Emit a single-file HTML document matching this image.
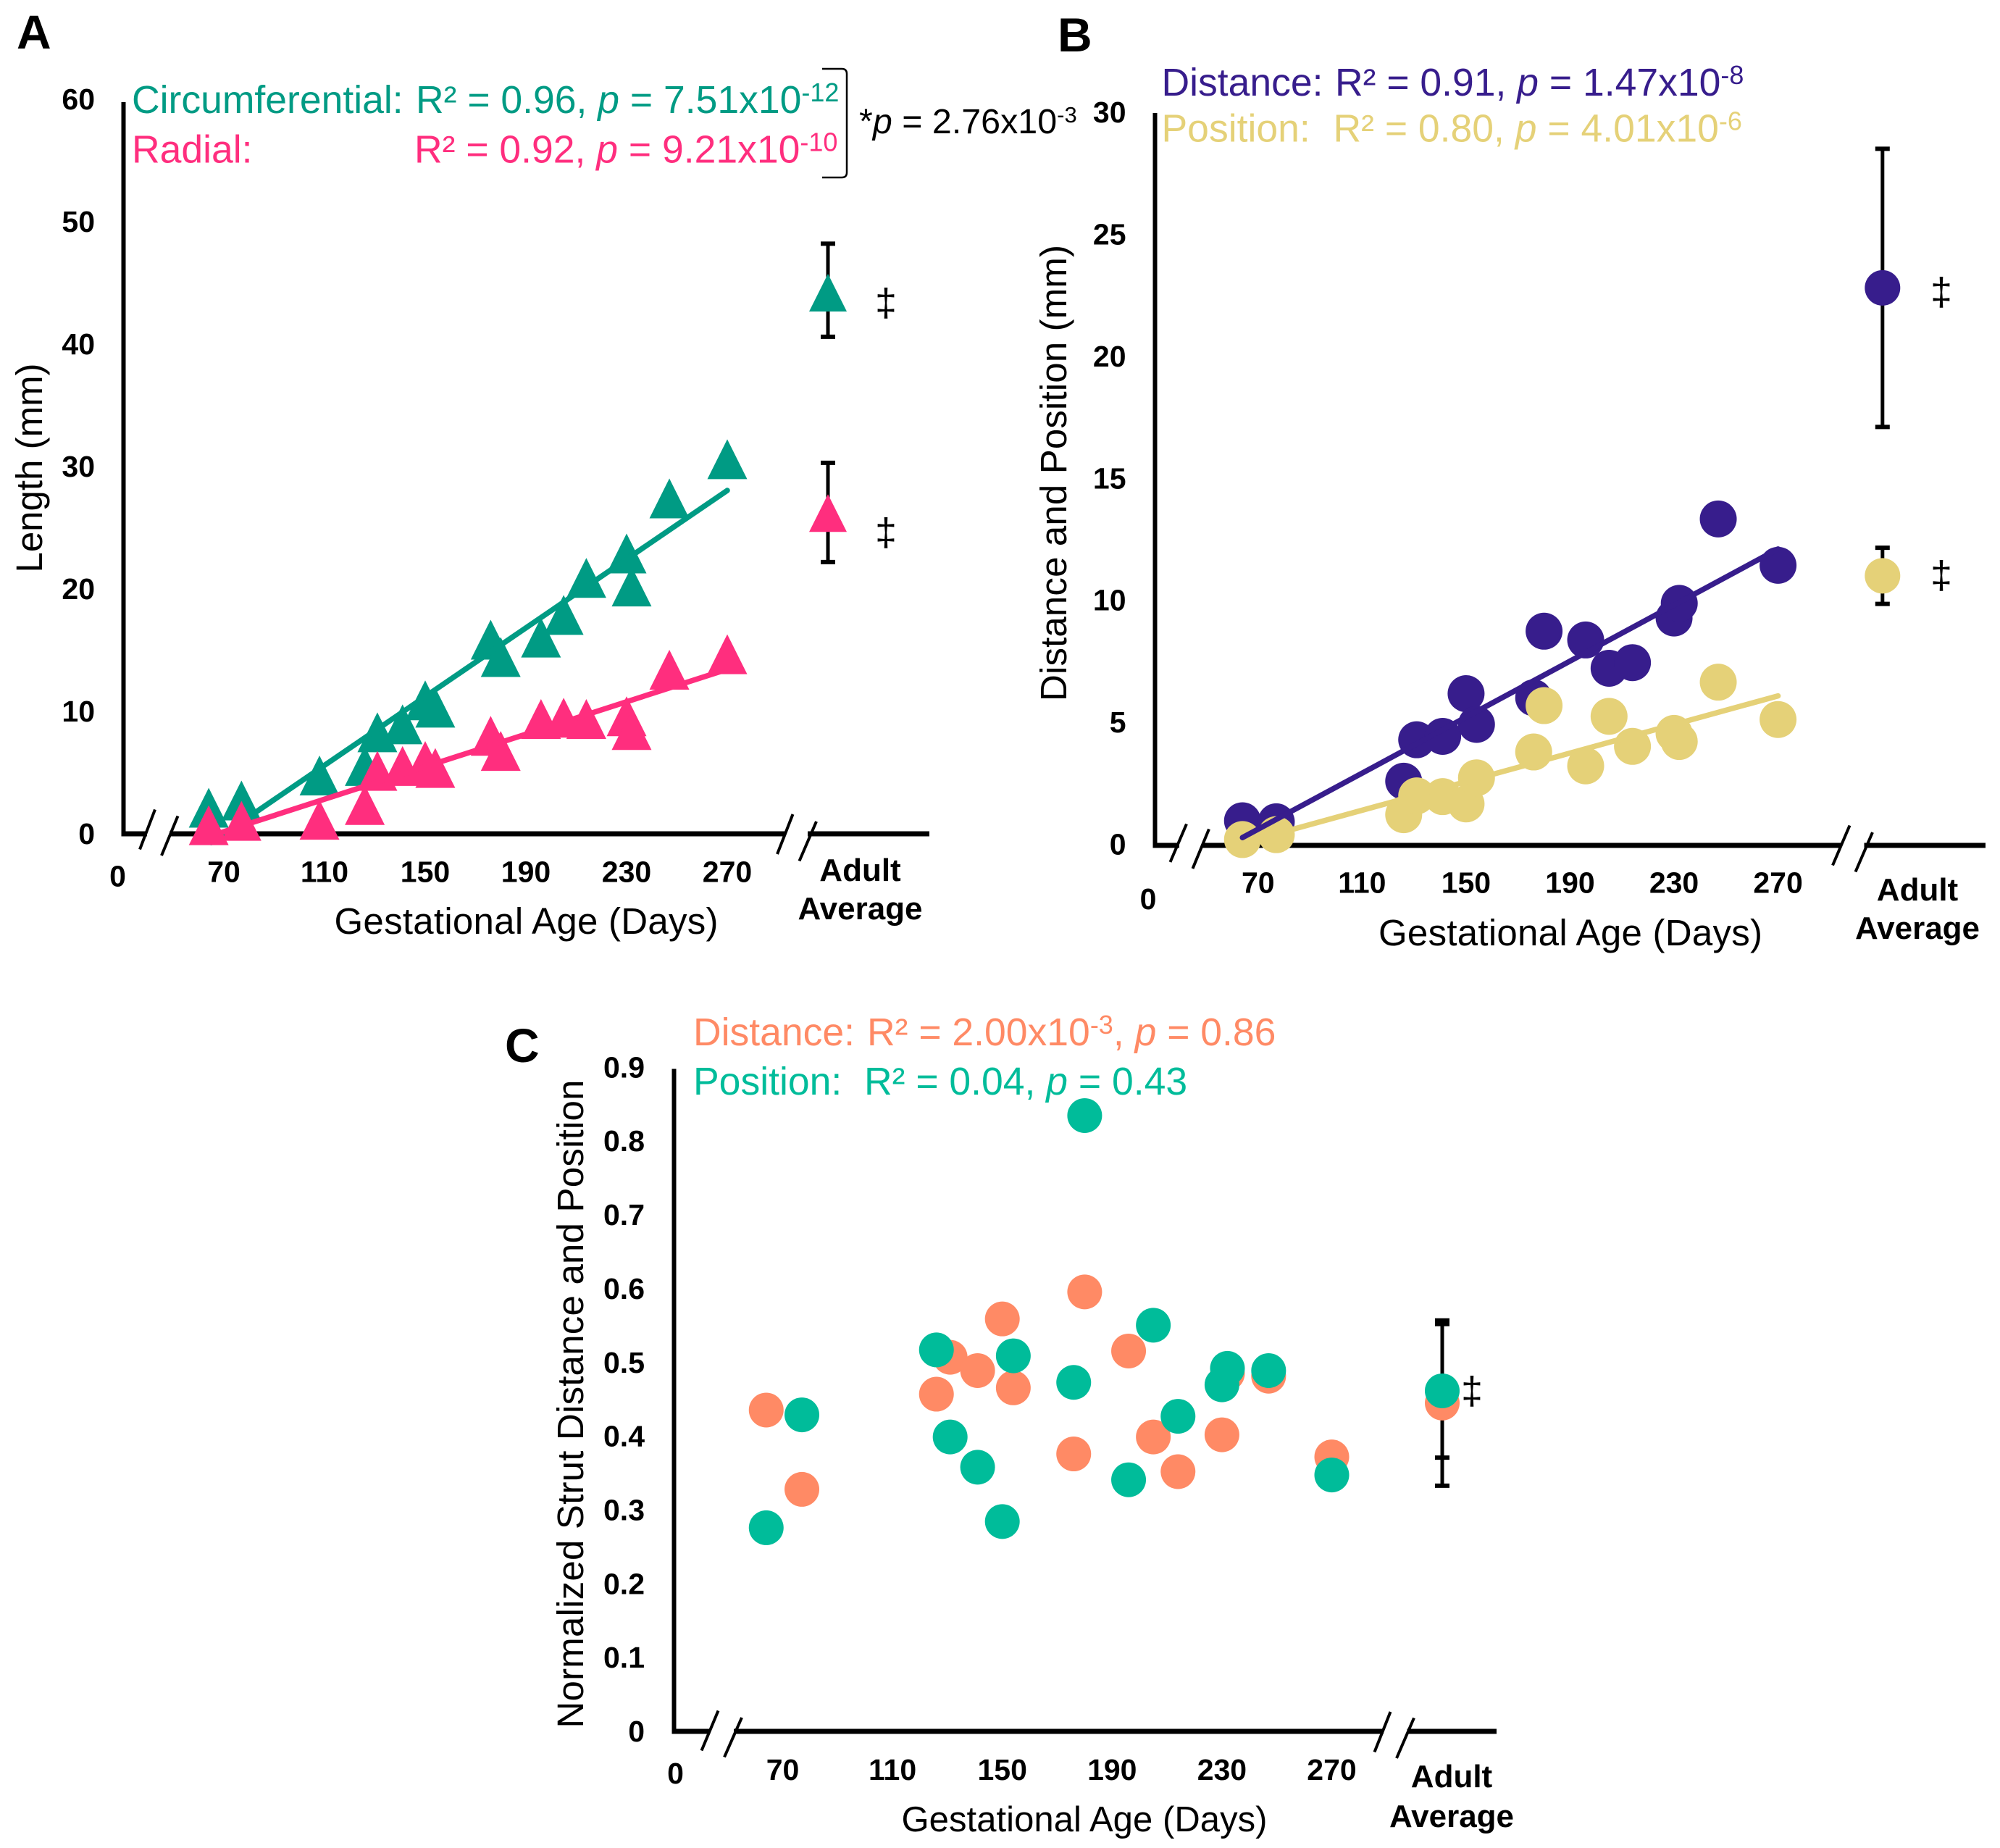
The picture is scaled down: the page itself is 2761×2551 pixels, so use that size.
<!DOCTYPE html>
<html lang="en">
<head>
<meta charset="utf-8">
<title>Strut length, distance and position versus gestational age</title>
<style>
html,body{margin:0;padding:0;background:#fff;}
svg{display:block;}
text{font-family:"Liberation Sans",Arial,sans-serif;}
.tick{font-size:41px;font-weight:bold;fill:#000;}
.title{font-size:51px;fill:#000;}
.ann{font-size:53.5px;}
.panel{font-size:66px;font-weight:bold;fill:#000;}
.dag{font-size:54px;fill:#000;text-anchor:middle;}
.adult{font-size:44px;font-weight:bold;fill:#000;text-anchor:middle;}
</style>
</head>
<body>
<svg id="fig" xmlns="http://www.w3.org/2000/svg" width="2761" height="2551" viewBox="0 0 2761 2551">
<rect width="2761" height="2551" fill="#fff"/>

<!-- Panel A static text -->
<text class="panel" x="23" y="67">A</text>
<text class="ann" x="182" y="156" fill="#009B84">Circumferential:<tspan x="574">R² = 0.96, <tspan font-style="italic">p</tspan> = 7.51x10</tspan><tspan dy="-16" font-size="36">-12</tspan></text>
<text class="ann" x="182" y="224.5" fill="#FF2E7E">Radial:<tspan x="572">R² = 0.92, <tspan font-style="italic">p</tspan> = 9.21x10</tspan><tspan dy="-16" font-size="36">-10</tspan></text>
<path d="M1135 95H1162Q1169 95 1169 102V238Q1169 245 1162 245H1135" fill="none" stroke="#000" stroke-width="2.5"/>
<text x="1186" y="184" font-size="48.4" fill="#000">*<tspan font-style="italic">p</tspan> = 2.76x10<tspan dy="-15" font-size="31">-3</tspan></text>
<text class="title" transform="translate(58,646) rotate(-90)" text-anchor="middle">Length (mm)</text>
<text class="title" x="726.5" y="1289" text-anchor="middle" textLength="530">Gestational Age (Days)</text>
<text class="tick" x="162.5" y="1223.5" text-anchor="middle">0</text>
<text class="adult" x="1187.5" y="1216">Adult</text>
<text class="adult" x="1187.5" y="1269">Average</text>
<text class="dag" x="1223" y="436">‡</text>
<text class="dag" x="1223" y="753">‡</text>

<!-- Panel B static text -->
<text class="panel" x="1460" y="71">B</text>
<text class="ann" x="1603.5" y="132" fill="#371D8C">Distance:<tspan x="1843">R² = 0.91, <tspan font-style="italic">p</tspan> = 1.47x10</tspan><tspan dy="-16" font-size="36">-8</tspan></text>
<text class="ann" x="1603.5" y="195.5" fill="#E5D178">Position:<tspan x="1840.5">R² = 0.80, <tspan font-style="italic">p</tspan> = 4.01x10</tspan><tspan dy="-16" font-size="36">-6</tspan></text>
<text class="title" transform="translate(1472,653) rotate(-90)" text-anchor="middle" textLength="630">Distance and Position (mm)</text>
<text class="title" x="2168" y="1305" text-anchor="middle" textLength="530">Gestational Age (Days)</text>
<text class="tick" x="1585" y="1255" text-anchor="middle">0</text>
<text class="adult" x="2647" y="1243">Adult</text>
<text class="adult" x="2647" y="1296">Average</text>
<text class="dag" x="2680" y="421">‡</text>
<text class="dag" x="2680" y="812">‡</text>

<!-- Panel C static text -->
<text class="panel" x="697" y="1466">C</text>
<text class="ann" x="957" y="1443" fill="#FF8A65">Distance:<tspan x="1197">R² = 2.00x10</tspan><tspan dy="-16" font-size="36">-3</tspan><tspan dy="16">, <tspan font-style="italic">p</tspan> = 0.86</tspan></text>
<text class="ann" x="957" y="1511" fill="#00BC9A">Position:<tspan x="1193">R² = 0.04, <tspan font-style="italic">p</tspan> = 0.43</tspan></text>
<text class="title" transform="translate(805,1938) rotate(-90)" text-anchor="middle" textLength="895">Normalized Strut Distance and Position</text>
<text class="title" x="1497" y="2528" text-anchor="middle" textLength="505" style="font-size:49px">Gestational Age (Days)</text>
<text class="tick" x="932.5" y="2462" text-anchor="middle">0</text>
<text class="adult" x="2004" y="2467">Adult</text>
<text class="adult" x="2004" y="2522">Average</text>
<text class="dag" x="2032" y="1938">‡</text>

<g id="layer"></g>
</svg>

<script>
// ---------- Chart data ----------
const xTickDaysA = [70, 110, 150, 190, 230, 270];
const xTickDaysB = [70, 110, 150, 190, 230, 270];
const xTickDaysC = [70, 110, 150, 190, 230, 270];
const yTicksA = [0, 10, 20, 30, 40, 50, 60];
const yTicksB = [0, 5, 10, 15, 20, 25, 30];
const yTicksC = [0, 0.1, 0.2, 0.3, 0.4, 0.5, 0.6, 0.7, 0.8, 0.9];

const agesA = [64, 77, 108, 126, 131, 141, 150, 154, 176, 180, 196, 205, 214, 230, 232, 247, 270];
const circumferentialLength = [2.13, 2.72, 4.76, 5.54, 8.29, 8.94, 10.9, 10.3, 15.86, 14.44, 16.03, 17.88, 20.9, 22.9, 20.2, 27.4, 30.6];
const radialLength = [0.7, 1.06, 1.15, 2.35, 5.14, 5.54, 5.95, 5.38, 8.0, 6.77, 9.38, 9.48, 9.38, 9.6, 8.48, 13.4, 14.67];

const agesB = [64, 77, 126, 131, 141, 150, 154, 176, 180, 196, 205, 214, 230, 232, 247, 270];
const strutDistance = [1.01, 0.97, 2.63, 4.33, 4.47, 6.22, 4.96, 6.05, 8.78, 8.42, 7.26, 7.49, 9.32, 9.92, 13.38, 11.48];
const strutPosition = [0.24, 0.44, 1.26, 2.03, 2.0, 1.7, 2.77, 3.83, 5.73, 3.26, 5.29, 4.06, 4.59, 4.26, 6.69, 5.16];

const agesC = [64, 77, 126, 131, 141, 150, 154, 176, 180, 196, 205, 214, 230, 232, 247, 270];
const normalizedDistance = [0.4355, 0.328, 0.457, 0.507, 0.489, 0.559, 0.4656, 0.376, 0.5956, 0.5155, 0.399, 0.352, 0.402, 0.485, 0.4814, 0.372];
const normalizedPosition = [0.276, 0.429, 0.517, 0.399, 0.358, 0.2844, 0.509, 0.473, 0.8346, 0.341, 0.5505, 0.427, 0.4697, 0.492, 0.489, 0.3475];

// adult averages: [mean, upper, lower]
const adultCircumferential = [44.2, 48.2, 40.6];
const adultRadial = [26.2, 30.3, 22.2];
const adultDistance = [22.85, 28.55, 17.15];
const adultPosition = [11.05, 12.2, 9.9];
const adultNormDistance = [0.445, 0.557, 0.333];
const adultNormPosition = [0.4615, 0.552, 0.371];

// ---------- Axis functions ----------
const xA = d => 309 + (d - 70) * 3.475;
const yA = v => 1151 - v * 16.9;
const xB = d => 1736.8 + (d - 70) * 3.589;
const yB = v => 1167 - v * 33.68;
const xC = d => 1080.5 + (d - 70) * 3.79;
const yC = v => 2390 - v * 1018.5;

const adultXA = 1143;
const adultXB = 2598.8;
const adultXC = 1991;

// ---------- Drawing helpers ----------
const NS = 'http://www.w3.org/2000/svg';
const layer = document.getElementById('layer');

function make(tag, name, props) {
  const el = document.createElementNS(NS, tag);
  for (const k in props) el.setAttribute(k, props[k]);
  
  
  layer.appendChild(el);
  return el;
}
function line(name, x1, y1, x2, y2, color, w, cap) {
  return make('line', name, {x1: x1, y1: y1, x2: x2, y2: y2, stroke: color, 'stroke-width': w, 'stroke-linecap': cap || 'butt'});
}
function triangle(name, cx, cy, color, size) {
  const s = size / 2;
  const pts = cx + ',' + (cy - s) + ' ' + (cx + s) + ',' + (cy + s) + ' ' + (cx - s) + ',' + (cy + s);
  return make('polygon', name, {points: pts, fill: color});
}
function circle(name, cx, cy, r, color) {
  return make('circle', name, {cx: cx, cy: cy, r: r, fill: color});
}
function label(name, x, y, str, anchor) {
  const t = make('text', name, {x: x, y: y, class: 'tick', 'text-anchor': anchor});
  t.textContent = str;
  return t;
}
function fit(xs, ys) {
  const n = xs.length;
  const mx = xs.reduce((a, b) => a + b, 0) / n;
  const my = ys.reduce((a, b) => a + b, 0) / n;
  let sxy = 0, sxx = 0;
  xs.forEach((x, i) => { sxy += (x - mx) * (ys[i] - my); sxx += (x - mx) * (x - mx); });
  const m = sxy / sxx;
  return d => my + m * (d - mx);
}
function trend(name, ages, vals, sx, sy, from, to, color) {
  const f = fit(ages, vals);
  line(name, sx(from), sy(f(from)), sx(to), sy(f(to)), color, 7.5, 'round');
}
function errorBar(name, cx, sy, stats) {
  line(name + '-stem', cx, sy(stats[1]), cx, sy(stats[2]), '#000', 5);
  line(name + '-cap-top', cx - 10, sy(stats[1]), cx + 10, sy(stats[1]), '#000', 6);
  line(name + '-cap-bottom', cx - 10, sy(stats[2]), cx + 10, sy(stats[2]), '#000', 6);
}
function axes(prefix, xLeft, yTop, yBase, xRight, segs, slashes) {
  line(prefix + '-y-axis', xLeft, yTop, xLeft, yBase + 3, '#000', 6);
  segs.forEach(function (s, i) {
    line(prefix + '-x-axis-segment-' + i, s[0], yBase, s[1], yBase, '#000', 7);
  });
  slashes.forEach(function (s, i) {
    line(prefix + '-axis-break-' + i, s[0], s[1], s[2], s[3], '#000', 4);
  });
}

// ---------- Panel A ----------
axes('panel-a', 170.5, 141, 1151, 1283,
  [[167.5, 203], [234, 1083], [1115, 1283]],
  [[214, 1117.5, 193, 1172.5], [245.5, 1126.5, 223, 1181], [1094.5, 1124, 1073, 1179], [1127, 1134, 1103.5, 1188.5]]);
yTicksA.forEach(function (v) {
  label('panel-a-y-tick-' + v, 131, yA(v) + 14, String(v), 'end');
});
xTickDaysA.forEach(function (d) {
  label('panel-a-x-tick-' + d, xA(d), 1217.5, String(d), 'middle');
});
errorBar('adult-circumferential-error', adultXA, yA, adultCircumferential);
errorBar('adult-radial-error', adultXA, yA, adultRadial);
agesA.forEach(function (d, i) {
  triangle('circumferential-point-' + d, xA(d), yA(circumferentialLength[i]), '#009B84', 55);
});
trend('circumferential-trendline', agesA, circumferentialLength, xA, yA, 65, 270, '#009B84');
agesA.forEach(function (d, i) {
  triangle('radial-point-' + d, xA(d), yA(radialLength[i]), '#FF2E7E', 55);
});
trend('radial-trendline', agesA, radialLength, xA, yA, 66, 270, '#FF2E7E');
triangle('adult-circumferential-point', adultXA, yA(adultCircumferential[0]), '#009B84', 52);
triangle('adult-radial-point', adultXA, yA(adultRadial[0]), '#FF2E7E', 52);

// ---------- Panel B ----------
axes('panel-b', 1594.5, 156, 1167, 2741,
  [[1591.5, 1628], [1659, 2541.5], [2573.5, 2741]],
  [[1638, 1137.5, 1615.5, 1190], [1669, 1144.5, 1646.5, 1199], [2553.5, 1139.5, 2530, 1194.5], [2585, 1149, 2561.5, 1203.5]]);
yTicksB.forEach(function (v) {
  label('panel-b-y-tick-' + v, 1554.5, yB(v) + 12.5, String(v), 'end');
});
xTickDaysB.forEach(function (d) {
  label('panel-b-x-tick-' + d, xB(d), 1232.5, String(d), 'middle');
});
errorBar('adult-distance-error', adultXB, yB, adultDistance);
errorBar('adult-position-error', adultXB, yB, adultPosition);
agesB.forEach(function (d, i) {
  circle('distance-point-' + d, xB(d), yB(strutDistance[i]), 25.5, '#371D8C');
});
agesB.forEach(function (d, i) {
  circle('position-point-' + d, xB(d), yB(strutPosition[i]), 25.5, '#E5D178');
});
trend('position-trendline', agesB, strutPosition, xB, yB, 64, 270, '#E5D178');
trend('distance-trendline', agesB, strutDistance, xB, yB, 64, 270, '#371D8C');
circle('adult-distance-point', adultXB, yB(adultDistance[0]), 24.5, '#371D8C');
circle('adult-position-point', adultXB, yB(adultPosition[0]), 24.5, '#E5D178');

// ---------- Panel C ----------
axes('panel-c', 930.5, 1475.5, 2390, 2066,
  [[927.5, 980.5], [1013, 1910], [1942.5, 2066]],
  [[991.5, 2361.5, 968.5, 2416.5], [1024, 2371, 1000, 2425.5], [1919.5, 2363, 1897.5, 2418.5], [1952, 2371.5, 1928, 2427]]);
yTicksC.forEach(function (v) {
  label('panel-c-y-tick-' + v, 890, yC(v) + 14, String(v), 'end');
});
xTickDaysC.forEach(function (d) {
  label('panel-c-x-tick-' + d, xC(d), 2457, String(d), 'middle');
});
errorBar('adult-normalized-distance-error', adultXC, yC, adultNormDistance);
errorBar('adult-normalized-position-error', adultXC, yC, adultNormPosition);
agesC.forEach(function (d, i) {
  circle('normalized-distance-point-' + d, xC(d), yC(normalizedDistance[i]), 24, '#FF8A65');
});
agesC.forEach(function (d, i) {
  circle('normalized-position-point-' + d, xC(d), yC(normalizedPosition[i]), 24, '#00BC9A');
});
circle('adult-normalized-distance-point', adultXC, yC(adultNormDistance[0]), 24, '#FF8A65');
circle('adult-normalized-position-point', adultXC, yC(adultNormPosition[0]), 24, '#00BC9A');
</script>
</body>
</html>
